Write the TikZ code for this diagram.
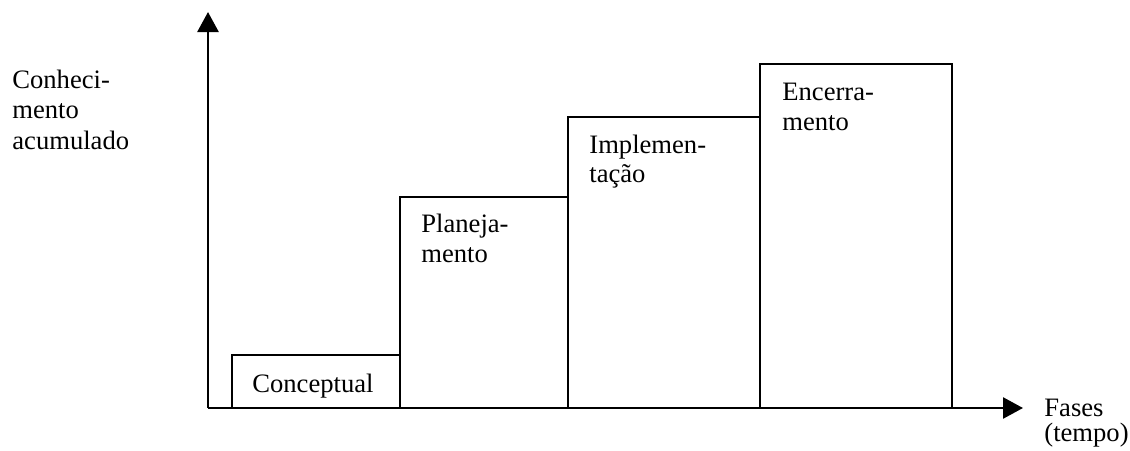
\documentclass[tikz,border=0pt]{standalone}
\usepackage{fontspec}
\setmainfont{Liberation Serif}
\usetikzlibrary{arrows.meta}
\begin{document}
\begin{tikzpicture}[x=0.5pt,y=-0.5pt,
  axis/.style={line width=1.3pt,-{Triangle[length=10pt,width=10.5pt]}},
  phase/.style={draw,line width=1pt},
  lbl/.style={anchor=base west,inner sep=0pt,font=\fontsize{13.3}{15}\selectfont}]
\useasboundingbox (0,0) rectangle (1130,450);

% project phases as growing blocks
\draw[phase] (232,408) rectangle (400,355);
\draw[phase] (400,408) rectangle (568,197);
\draw[phase] (568,408) rectangle (760,117);
\draw[phase] (760,408) rectangle (952,64);

% axes
\coordinate (origin) at (208,408);
\coordinate (ytip) at (208,12);
\coordinate (xtip) at (1023,408);
\draw[axis] (origin) -- (ytip);
\draw[axis] (origin) -- (xtip);

% phase labels
\node[lbl] (concep) at (252,392) {Conceptual};
\node[lbl] (plan1) at (421,232) {Planeja-};
\node[lbl] (plan2) at (421,262) {mento};
\node[lbl] (impl1) at (589,153) {Implemen-};
\node[lbl] (impl2) at (589,182) {tação};
\node[lbl] (enc1) at (782,100) {Encerra-};
\node[lbl] (enc2) at (782,130) {mento};

% axis labels
\node[lbl] (yl1) at (12,88) {Conheci-};
\node[lbl] (yl2) at (12,118) {mento};
\node[lbl] (yl3) at (12,149) {acumulado};
\node[lbl] (xl1) at (1044,416) {Fases};
\node[lbl] (xl2) at (1044,441) {(tempo)};
\end{tikzpicture}
\end{document}
